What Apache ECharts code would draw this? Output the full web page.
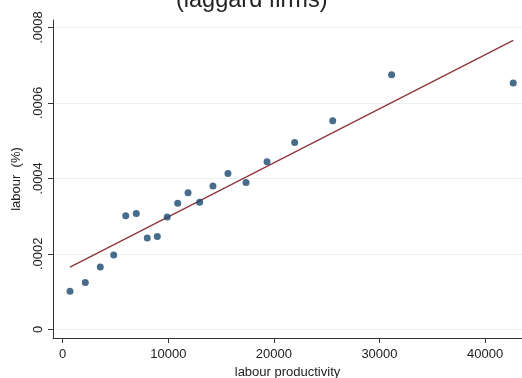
<!DOCTYPE html>
<html>
<head>
<meta charset="utf-8">
<script src="https://cdn.jsdelivr.net/npm/echarts@6/dist/echarts.min.js"></script>
<style>html,body{margin:0;padding:0;background:#fff}#c{width:522px;height:378px}</style>
</head>
<body>
<div id="c"></div>
<script>
// Data
var productivity = [690, 2140, 3560, 4830, 5970, 6970, 8010, 8960, 9900, 10890, 11870, 12970, 14230, 15650, 17360, 19350, 21970, 25570, 31150, 42670];
var labourShare = [0.000101, 0.000124, 0.000165, 0.000197, 0.000301, 0.000307, 0.000242, 0.000246, 0.000298, 0.000334, 0.000362, 0.000337, 0.000380, 0.000413, 0.000389, 0.000444, 0.000495, 0.000553, 0.000675, 0.000653];
var fitX = [690, 42670];
var fitY = [0.000165, 0.000766];
var xTicks = [0, 10000, 20000, 30000, 40000];
var yTicks = [0, 0.0002, 0.0004, 0.0006, 0.0008];
var yTickLabels = ['0', '.0002', '.0004', '.0006', '.0008'];

var scatterData = productivity.map(function (x, i) { return [x, labourShare[i]]; });
var fitData = fitX.map(function (x, i) { return [x, fitY[i]]; });

var chart = echarts.init(document.getElementById('c'), null, {renderer: 'canvas'});
var font = 'Liberation Sans, Arial, sans-serif';
chart.setOption({
  animation: false,
  backgroundColor: '#fff',
  title: {
    text: '(laggard firms)',
    left: 171, top: -16,
    textStyle: {fontFamily: font, fontSize: 23.5, fontWeight: 'normal', color: '#222'}
  },
  grid: {left: 53, right: 0, top: 20, bottom: 40, containLabel: false, outerBoundsMode: 'none'},
  xAxis: {
    type: 'value', min: -920, max: 43500,
    name: 'labour productivity', nameLocation: 'middle', nameGap: 27,
    nameTextStyle: {fontFamily: font, fontSize: 13, color: '#222'},
    axisLine: {show: true, onZero: false, lineStyle: {color: '#333', width: 1}},
    axisTick: {show: true, length: 5, lineStyle: {color: '#333'}, customValues: xTicks},
    axisLabel: {fontFamily: font, fontSize: 13, color: '#222', margin: 10, customValues: xTicks,
      formatter: function (v) { return String(v); }},
    splitLine: {show: false}
  },
  yAxis: {
    type: 'value', min: -0.000023, max: 0.00082,
    name: 'labour  (%)', nameLocation: 'middle', nameGap: 30, nameRotate: 90,
    nameTextStyle: {fontFamily: font, fontSize: 13, color: '#222'},
    axisLine: {show: true, onZero: false, lineStyle: {color: '#333', width: 1}},
    axisTick: {show: true, length: 5, lineStyle: {color: '#333'}, customValues: yTicks},
    axisLabel: {fontFamily: font, fontSize: 13, color: '#222', margin: 8, rotate: 90, customValues: yTicks,
      formatter: function (v) {
        for (var i = 0; i < yTicks.length; i++) { if (Math.abs(v - yTicks[i]) < 1e-9) return yTickLabels[i]; }
        return '';
      }},
    splitLine: {show: true, lineStyle: {color: '#eaf2f3', width: 1}}
  },
  series: [
    {
      type: 'scatter', data: scatterData, symbol: 'circle', symbolSize: 7,
      itemStyle: {color: '#1a476f'}, z: 3
    },
    {
      type: 'line', data: fitData, symbol: 'none',
      lineStyle: {color: '#90353b', width: 1.3}, z: 2
    }
  ]
});
</script>
</body>
</html>
